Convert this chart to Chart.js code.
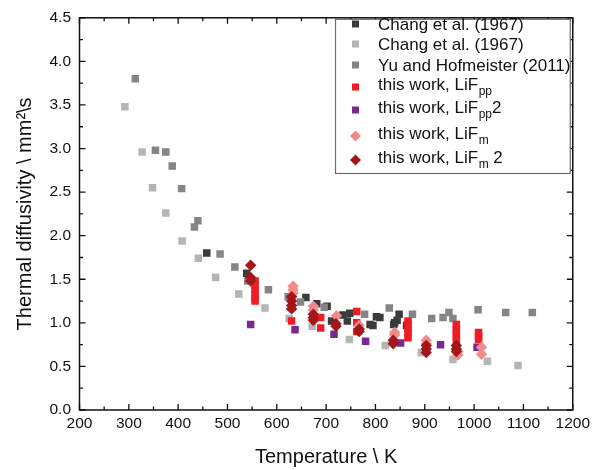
<!DOCTYPE html>
<html>
<head>
<meta charset="utf-8">
<script src="https://cdn.jsdelivr.net/npm/chart.js@4"></script>
<style>
html,body{margin:0;padding:0;background:#fff;}
canvas{display:block;}
</style>
</head>
<body>
<canvas id="c" width="594" height="470"></canvas>
<script>
// ---- data (temperature in K, thermal diffusivity in mm^2/s) ----
const changDarkT = [458, 539, 659, 681, 702, 711, 734, 743, 748, 789, 795, 802, 809, 837, 839, 844, 848, 863];
const changDarkV = [1.80, 1.57, 1.29, 1.22, 1.19, 1.02, 1.09, 1.02, 1.11, 0.98, 0.97, 1.07, 1.06, 0.98, 1.00, 1.03, 1.10, 0.97];

const changLightT = [292, 327, 348, 375, 408, 441, 476, 523, 576, 625, 672, 747, 820, 893, 957, 1027, 1089];
const changLightV = [3.48, 2.96, 2.55, 2.26, 1.94, 1.74, 1.52, 1.33, 1.17, 1.05, 0.96, 0.81, 0.74, 0.66, 0.58, 0.56, 0.51];

const yuT = [313, 354, 375, 388, 407, 433, 440, 485, 515, 541, 583, 623, 648, 696, 778, 828, 875, 914, 937, 949, 957, 1008, 1064, 1118];
const yuV = [3.80, 2.98, 2.96, 2.80, 2.54, 2.10, 2.17, 1.79, 1.64, 1.48, 1.38, 1.30, 1.24, 1.18, 1.10, 1.17, 1.10, 1.05, 1.06, 1.12, 1.05, 1.15, 1.12, 1.12];

const lifppT = [556, 556, 556, 556, 556, 556, 630, 689, 689, 762, 762, 762, 866, 866, 866, 866, 866, 964, 964, 964, 964, 964, 1009, 1009, 1009];
const lifppV = [1.48, 1.43, 1.38, 1.33, 1.28, 1.25, 1.02, 1.06, 0.94, 1.13, 1.00, 0.90, 1.02, 0.98, 0.93, 0.88, 0.83, 0.98, 0.93, 0.88, 0.84, 0.79, 0.89, 0.85, 0.81];

const lifpp2T = [547, 637, 716, 780, 851, 932, 1006];
const lifpp2V = [0.98, 0.92, 0.87, 0.79, 0.77, 0.75, 0.72];

const lifmT = [633, 633, 633, 674, 674, 721, 767, 767, 839, 839, 903, 903, 967, 967, 1015, 1015];
const lifmV = [1.42, 1.38, 1.34, 1.19, 1.15, 1.08, 0.97, 0.93, 0.89, 0.86, 0.80, 0.76, 0.67, 0.63, 0.72, 0.64];

const lifm2T = [547, 547, 547, 630, 630, 630, 630, 674, 674, 674, 720, 720, 767, 767, 836, 836, 903, 903, 903, 964, 964, 964];
const lifm2V = [1.66, 1.52, 1.48, 1.30, 1.25, 1.20, 1.16, 1.10, 1.06, 1.03, 0.99, 0.96, 0.93, 0.90, 0.80, 0.76, 0.74, 0.70, 0.66, 0.74, 0.70, 0.67];

const xTickMin = 200, xTickMax = 1200, xStep = 100;
const yTickMin = 0, yTickMax = 4.5, yStep = 0.5;

const seriesNames = ['Chang et al. (1967)', 'Chang et al. (1967)', 'Yu and Hofmeister (2011)',
  'this work, LiFpp', 'this work, LiFpp2', 'this work, LiFm', 'this work, LiFm 2'];

// ---- styles ----
const COL = {
  dark: '#3b3b3b', light: '#b5b5b5', mid: '#858585',
  red: '#ee1d25', purple: '#7a2a8c', pink: '#f18b8b', dred: '#a3171b'
};
const FONT = "'Liberation Sans', Arial, sans-serif";

function pts(xs, ys) { return xs.map((x, i) => ({x: x, y: ys[i]})); }

function ds(label, xs, ys, color, style, radius, order) {
  return {
    label: label, data: pts(xs, ys),
    pointStyle: style, pointRadius: radius, pointHoverRadius: radius,
    backgroundColor: color, borderColor: color, borderWidth: 0,
    order: order, showLine: false
  };
}

const datasets = [
  ds(seriesNames[0], changDarkT, changDarkV, COL.dark, 'rect', 5.3, 7),
  ds(seriesNames[1], changLightT, changLightV, COL.light, 'rect', 5.3, 6),
  ds(seriesNames[2], yuT, yuV, COL.mid, 'rect', 5.3, 5),
  ds(seriesNames[3], lifppT, lifppV, COL.red, 'rect', 5.3, 4),
  ds(seriesNames[4], lifpp2T, lifpp2V, COL.purple, 'rect', 5.3, 3),
  ds(seriesNames[5], lifmT, lifmV, COL.pink, 'rectRot', 5.7, 2),
  ds(seriesNames[6], lifm2T, lifm2V, COL.dred, 'rectRot', 5.7, 1)
];

// legend entries: main text, subscript, suffix, colour, marker
const legendItems = [
  {t: 'Chang et al. (1967)', s: '', a: '', c: COL.dark, m: 'sq', y: 24},
  {t: 'Chang et al. (1967)', s: '', a: '', c: COL.light, m: 'sq', y: 44},
  {t: 'Yu and Hofmeister (2011)', s: '', a: '', c: COL.mid, m: 'sq', y: 65},
  {t: 'this work, LiF', s: 'pp', a: '', c: COL.red, m: 'sq', y: 87},
  {t: 'this work, LiF', s: 'pp', a: '2', c: COL.purple, m: 'sq', y: 110},
  {t: 'this work, LiF', s: 'm', a: '', c: COL.pink, m: 'di', y: 136},
  {t: 'this work, LiF', s: 'm', a: ' 2', c: COL.dred, m: 'di', y: 160}
];

function drawTicks(chart) {
  const ctx = chart.ctx, ca = chart.chartArea;
  const xs = chart.scales.x, ys = chart.scales.y;
  ctx.save();
  ctx.strokeStyle = '#111';
  ctx.lineWidth = 1.3;
  ctx.beginPath();
  const nx = Math.round((xTickMax - xTickMin) / (xStep / 2));
  for (let k = 0; k <= nx; k++) {
    const v = xTickMin + k * xStep / 2;
    const px = xs.getPixelForValue(v);
    const L = (k % 2 === 0) ? 6 : 3.5;
    ctx.moveTo(px, ca.bottom); ctx.lineTo(px, ca.bottom - L);
    ctx.moveTo(px, ca.top); ctx.lineTo(px, ca.top + L);
  }
  const ny = Math.round((yTickMax - yTickMin) / (yStep / 2));
  for (let k = 0; k <= ny; k++) {
    const v = yTickMin + k * yStep / 2;
    const py = ys.getPixelForValue(v);
    const L = (k % 2 === 0) ? 6 : 3.5;
    ctx.moveTo(ca.left, py); ctx.lineTo(ca.left + L, py);
    ctx.moveTo(ca.right, py); ctx.lineTo(ca.right - L, py);
  }
  ctx.stroke();
  ctx.restore();
}

function drawLegend(chart) {
  const ctx = chart.ctx, ca = chart.chartArea;
  const right = ca.right - 2.5, top = ca.top + 1.5;
  const left = 335.5, bottom = 173.5;
  ctx.save();
  ctx.fillStyle = '#fff';
  ctx.fillRect(left, top, right - left, bottom - top);
  ctx.strokeStyle = '#6e6e6e';
  ctx.lineWidth = 1.2;
  ctx.strokeRect(left, top, right - left, bottom - top);
  legendItems.forEach(it => {
    const mx = 355.5, my = it.y;
    ctx.fillStyle = it.c;
    if (it.m === 'sq') {
      ctx.fillRect(mx - 3.5, my - 3.5, 7, 7);
    } else {
      ctx.beginPath();
      ctx.moveTo(mx, my - 5.5); ctx.lineTo(mx + 5.5, my);
      ctx.lineTo(mx, my + 5.5); ctx.lineTo(mx - 5.5, my);
      ctx.closePath(); ctx.fill();
    }
    ctx.fillStyle = '#111';
    ctx.textBaseline = 'middle';
    ctx.textAlign = 'left';
    ctx.font = '17px ' + FONT;
    let x = 378;
    const ty = (it.s ? it.y - 3 : it.y) + 1;
    ctx.fillText(it.t, x, ty);
    x += ctx.measureText(it.t).width;
    if (it.s) {
      ctx.font = '12px ' + FONT;
      ctx.fillText(it.s, x + 0.5, ty + 7);
      x += ctx.measureText(it.s).width + 0.5;
      ctx.font = '17px ' + FONT;
      ctx.fillText(it.a, x, ty);
    }
  });
  ctx.restore();
}

const overlayPlugin = {
  id: 'overlay',
  afterDatasetsDraw(chart) {
    drawTicks(chart);
    drawLegend(chart);
    const ctx = chart.ctx, ca = chart.chartArea;
    ctx.save();
    ctx.strokeStyle = '#111';
    ctx.lineWidth = 1.5;
    ctx.strokeRect(ca.left, ca.top, ca.right - ca.left, ca.bottom - ca.top);
    ctx.restore();
  }
};

new Chart(document.getElementById('c'), {
  type: 'scatter',
  data: {datasets: datasets},
  plugins: [overlayPlugin],
  options: {
    responsive: false,
    animation: false,
    devicePixelRatio: 1,
    layout: {padding: {top: 12, right: 21, bottom: 0, left: 0}},
    plugins: {legend: {display: false}, tooltip: {enabled: false}},
    scales: {
      x: {
        type: 'linear', min: xTickMin, max: xTickMax,
        grid: {display: false, drawTicks: false},
        border: {display: false},
        ticks: {stepSize: xStep, color: '#111', padding: 4, maxRotation: 0,
          font: {family: FONT, size: 15.5},
          callback: v => String(v)},
        title: {display: true, text: 'Temperature \\ K', color: '#111',
          font: {family: FONT, size: 20}, padding: 1},
        afterFit(s) { s.height = 60; }
      },
      y: {
        type: 'linear', min: yTickMin, max: yTickMax,
        grid: {display: false, drawTicks: false},
        border: {display: false},
        ticks: {stepSize: yStep, color: '#111', padding: 8.5,
          font: {family: FONT, size: 15.5},
          callback: v => Number(v).toFixed(1)},
        title: {display: true, text: 'Thermal diffusivity \\ mm\u00B2\\s', color: '#111',
          font: {family: FONT, size: 20}, padding: 13},
        afterFit(s) { s.width = 79.5; }
      }
    }
  }
});
</script>
</body>
</html>
